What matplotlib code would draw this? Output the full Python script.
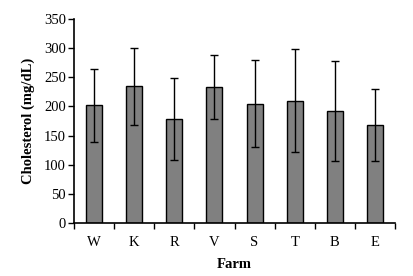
import numpy as np
import matplotlib.pyplot as plt

## Data
farms = ["W", "K", "R", "V", "S", "T", "B", "E"]
chol_mean = [202, 235, 178, 233, 205, 210, 192, 168]
chol_sd = [63, 66, 70, 55, 74, 88, 86, 62]

plt.rcParams['font.family'] = ['Liberation Serif', 'DejaVu Serif']
plt.rcParams['font.size'] = 10.5

fig = plt.figure(figsize=(4.14, 2.76), dpi=100)
ax = fig.add_axes([0.179, 0.192, 0.775, 0.739])

x = np.arange(len(farms))
ax.bar(x, chol_mean, width=0.4, color="#808080", edgecolor="black", linewidth=1.0,
       yerr=chol_sd, capsize=3, error_kw=dict(elinewidth=1, capthick=1, ecolor="black"),
       zorder=2)

ax.set_xlim(-0.5, len(farms) - 0.5)
ax.set_ylim(0, 350)
ax.set_yticks(np.arange(0, 351, 50))

# category labels centred, tick marks between categories
ax.set_xticks(x)
ax.set_xticklabels(farms)
ax.tick_params(axis="x", which="major", length=0, pad=9)
ax.set_xticks(np.arange(-0.5, len(farms), 1), minor=True)
ax.tick_params(axis="x", which="minor", length=4, width=1, direction="out")
ax.tick_params(axis="y", length=4, width=1, direction="out", pad=2)

for s in ["top", "right"]:
    ax.spines[s].set_visible(False)
for s in ["left", "bottom"]:
    ax.spines[s].set_linewidth(1.2)

ax.set_xlabel("Farm", fontweight="bold", labelpad=7)
ax.set_ylabel("Cholesterol (mg/dL)", fontweight="bold", labelpad=6)

plt.savefig("out.png", dpi=100)
plt.close()
